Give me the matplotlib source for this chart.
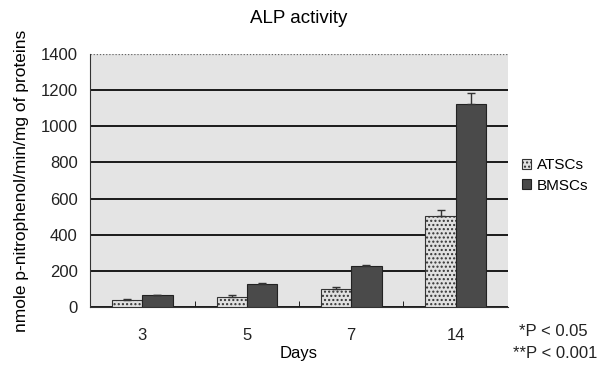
import matplotlib
matplotlib.use("Agg")
import matplotlib.pyplot as plt
import numpy as np

plt.rcParams['font.family'] = ['Liberation Sans', 'DejaVu Sans']

days = ["3", "5", "7", "14"]
atscs = [42, 55, 100, 505]
bmscs = [66, 128, 225, 1125]
atscs_err = [4, 12, 14, 30]
bmscs_err = [4, 6, 6, 60]
yticks = [0, 200, 400, 600, 800, 1000, 1200, 1400]

fig = plt.figure(figsize=(6.09, 3.67), dpi=100)
ax = fig.add_axes([0.148, 0.163, 0.686, 0.69])
ax.set_facecolor('#e4e4e4')

x = np.arange(len(days))
w = 0.29
zeros = [0] * len(days)
plt.rcParams['hatch.color'] = '#9a9a9a'
ax.bar(x - w/2, atscs, w, yerr=[zeros, atscs_err], color='#e0e0e0', edgecolor='#333333',
       linewidth=0.8, hatch='....', error_kw=dict(ecolor='#333333', capsize=3, lw=1), zorder=3, label='ATSCs')
ax.bar(x + w/2, bmscs, w, yerr=[zeros, bmscs_err], color='#4a4a4a', edgecolor='#222222',
       linewidth=0.8, error_kw=dict(ecolor='#333333', capsize=3, lw=1), zorder=3, label='BMSCs')

ax.set_xlim(-0.5, len(days) - 0.5)
ax.set_ylim(0, 1400)
ax.set_yticks(yticks)
ax.set_yticklabels([str(t) for t in yticks], fontsize=12, color='#222222')
ax.set_xticks(x)
ax.set_xticklabels(days, fontsize=12, color='#222222')
ax.set_xticks(np.arange(0.5, len(days) - 0.5, 1), minor=True)
ax.tick_params(axis='x', which='major', length=0, pad=15)
ax.tick_params(axis='x', which='minor', length=4, direction='in')
ax.tick_params(axis='y', length=0, pad=9)
ax.yaxis.grid(True, color='#1a1a1a', linewidth=1.4, zorder=1)
ax.set_axisbelow(True)
gl = ax.get_ygridlines()
gl[-1].set_linestyle((0, (1, 1.5)))
gl[-1].set_linewidth(0.9)
gl[-1].set_color('#666666')
for s in ['top', 'right']:
    ax.spines[s].set_visible(False)
ax.spines['left'].set_color('#333333')
ax.spines['bottom'].set_color('#333333')

ax.set_xlabel('Days', fontsize=12, labelpad=2)
ax.set_ylabel('nmole p-nitrophenol/min/mg of proteins', fontsize=12.5, labelpad=8)
ax.set_title('ALP activity', fontsize=13.5, pad=22)

ax.legend(loc='center left', bbox_to_anchor=(1.0, 0.52), frameon=False, fontsize=11,
          handlelength=0.6, handleheight=0.6, handletextpad=0.4, labelspacing=0.4)

fig.text(0.853, 0.085, '*P < 0.05', fontsize=12, ha='left', color='#222222')
fig.text(0.842, 0.025, '**P < 0.001', fontsize=12, ha='left', color='#222222')

fig.savefig('out.png', dpi=100)
